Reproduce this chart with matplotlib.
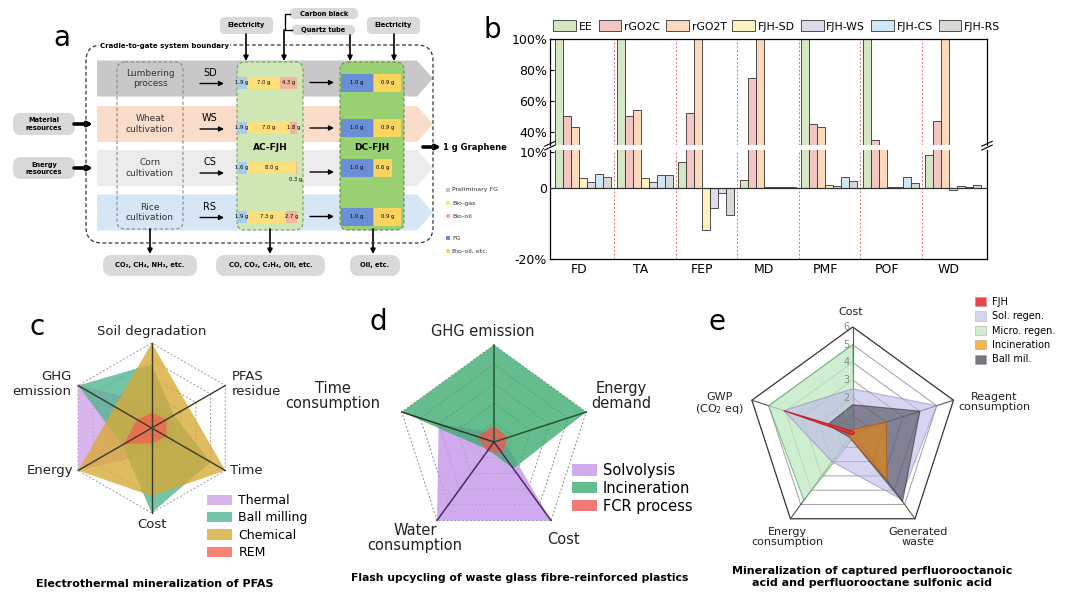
import numpy as np
import matplotlib
matplotlib.use('Agg')
import matplotlib.pyplot as plt
from matplotlib.patches import FancyBboxPatch, Polygon, Rectangle, Patch

# ---- panel a: mass balance of the two-step flash (grams per 1 g graphene)
feedstocks = ['SD', 'WS', 'CS', 'RS']
processes = ['Lumbering\nprocess', 'Wheat\ncultivation', 'Corn\ncultivation', 'Rice\ncultivation']
ac_prelim_fg = [1.9, 1.9, 1.6, 1.9]
ac_bio_gas = [7.0, 7.0, 8.0, 7.3]
ac_bio_oil = [4.3, 1.8, 0.3, 2.7]
dc_fg = [1.0, 1.0, 1.0, 1.0]
dc_bio_oil = [0.9, 0.9, 0.6, 0.9]

# ---- panel b: normalised impact (%)
categories = ['FD', 'TA', 'FEP', 'MD', 'PMF', 'POF', 'WD']
series_names = ['EE', 'rGO2C', 'rGO2T', 'FJH-SD', 'FJH-WS', 'FJH-CS', 'FJH-RS']
ee = [100, 100, 7.1, 2.3, 100, 100, 9.1]
rgo2c = [50, 50.5, 52.5, 75, 45, 35, 47]
rgo2t = [43, 54, 100, 100, 43, 30, 100]
fjh_sd = [2.8, 2.8, -11.9, 0.1, 0.7, 0.1, -0.6]
fjh_ws = [1.7, 1.7, -5.6, 0.1, 0.5, 0.1, 0.4]
fjh_cs = [3.9, 3.5, -1.6, 0.1, 3.0, 2.9, 0.2]
fjh_rs = [3.1, 3.7, -7.7, 0.1, 1.9, 1.2, 0.7]
series_colors = ['#d4e7c2', '#f4c6c3', '#fbd9bd', '#fcf2bf', '#dddbeb', '#cfe7f5', '#d9d9d5']

# ---- panel c: PFAS mineralization (relative, 0-1)
c_axes = ['Soil degradation', 'GHG\nemission', 'Energy', 'Cost', 'Time', 'PFAS\nresidue']
c_thermal = [0.3, 1.0, 1.0, 0.3, 0.3, 0.3]
c_ball_milling = [0.75, 1.0, 0.4, 1.0, 0.8, 0.3]
c_chemical = [1.0, 0.5, 1.0, 0.8, 1.0, 0.5]
c_rem = [0.18, 0.2, 0.38, 0.18, 0.2, 0.2]

# ---- panel d: glass fibre-reinforced plastics (relative, 0-1)
d_axes = ['GHG emission', 'Energy\ndemand', 'Cost', 'Water\nconsumption', 'Time\nconsumption']
d_solvolysis = [0.1, 0.1, 1.0, 1.0, 0.6]
d_incineration = [1.0, 1.0, 0.34, 0.1, 1.0]
d_fcr = [0.17, 0.15, 0.15, 0.12, 0.18]

# ---- panel e: captured PFOA / PFOS (score 0-6)
e_axes = ['Cost', 'Reagent\nconsumption', 'Generated\nwaste', 'Energy\nconsumption', 'GWP\n(CO$_2$ eq)']
e_fjh = [0.1, 0.1, 0.1, 0.1, 4.1]
e_sol_regen = [2.5, 5.0, 4.6, 2.0, 4.1]
e_micro_regen = [5.0, 0.1, 0.2, 4.7, 5.0]
e_incineration = [0.2, 2.0, 3.3, 0.3, 0.3]
e_ball_mil = [1.6, 4.0, 4.8, 0.3, 1.5]

W, H = 1080, 608


def box(x0, y0, x1, y1):
    # pixel box -> figure fraction
    return [x0 / W, 1 - y1 / H, (x1 - x0) / W, (y1 - y0) / H]


def rbox(ax, x0, y0, x1, y1, fc, ec='none', ls='-', lw=0.8, r=6, z=1, alpha=1):
    ax.add_patch(FancyBboxPatch((x0, y0), x1 - x0, y1 - y0,
                                boxstyle=f'round,pad=0,rounding_size={r}',
                                fc=fc, ec=ec, ls=ls, lw=lw, zorder=z, alpha=alpha))


def arrow(ax, x0, y0, x1, y1, lw=1.2, ms=7, z=5):
    ax.annotate('', xy=(x1, y1), xytext=(x0, y0), zorder=z,
                arrowprops=dict(arrowstyle='-|>', color='k', lw=lw,
                                mutation_scale=ms, shrinkA=0, shrinkB=0))


def panel_a(ax):
    ax.text(62, 38, 'a', fontsize=20, ha='center', va='center')
    # system boundary
    rbox(ax, 86, 45, 433, 243, 'none', ec='#333333', ls=(0, (3, 2)), lw=0.9, r=16, z=6)
    ax.text(100, 46, 'Cradle-to-gate system boundary', fontsize=5, fontweight='bold',
            va='center', zorder=7, bbox=dict(fc='white', ec='none', pad=0.5))

    row_y = [78.5, 124, 168, 212.5]
    band_colors = ['#c8c8c8', '#f9dcca', '#ececec', '#d6e6f5']
    for y, col in zip(row_y, band_colors):
        ax.add_patch(Polygon([(97, y - 18), (417, y - 18), (433, y), (417, y + 18), (97, y + 18)],
                             closed=True, fc=col, ec='none', zorder=1))

    rbox(ax, 117, 62, 183, 229, 'none', ec='#888888', ls=(0, (3, 2)), lw=0.8, r=8, z=3)
    rbox(ax, 237, 62, 303, 230, '#cfe7b4', ec='#7a9a66', ls=(0, (3, 2)), lw=0.8, r=8, z=2)
    rbox(ax, 340, 62, 404, 230, '#98d072', ec='#6a8a58', ls=(0, (3, 2)), lw=0.8, r=8, z=2)
    ax.text(270, 147, 'AC-FJH', fontsize=6.5, fontweight='bold', ha='center', va='center', zorder=4)
    ax.text(372, 147, 'DC-FJH', fontsize=6.5, fontweight='bold', ha='center', va='center', zorder=4)

    for i, y in enumerate(row_y):
        ax.text(150, y, processes[i], fontsize=6.5, ha='center', va='center', color='#333', zorder=4)
        ax.text(210, y - 6, feedstocks[i], fontsize=7, ha='center', va='center', zorder=4)
        arrow(ax, 200, y + 5, 224, y + 5, lw=1.0, ms=7)
        arrow(ax, 310, y + 4, 334, y + 4, lw=1.0, ms=7)
        # AC-FJH products
        by = y + 4 if i != 2 else y
        w_pre = 10
        w_oil = 4 * ac_bio_oil[i]
        w_gas = 60 - w_pre - w_oil
        segs = [(237, w_pre, '#a8cdeb'),
                (237 + w_pre, w_gas, '#fde07c'),
                (237 + w_pre + w_gas, w_oil, '#f1b59b')]
        for x0, w, col in segs:
            ax.add_patch(Rectangle((x0, by - 6), w, 12, fc=col, ec='none', zorder=3))
        ax.text(237 + w_pre / 2, by, f'{ac_prelim_fg[i]:.1f} g', fontsize=3.8, ha='center', va='center', zorder=4)
        ax.text(237 + w_pre + w_gas / 2, by, f'{ac_bio_gas[i]:.1f} g', fontsize=3.8, ha='center', va='center', zorder=4)
        if w_oil > 4:
            ax.text(237 + w_pre + w_gas + w_oil / 2, by, f'{ac_bio_oil[i]:.1f} g', fontsize=3.8,
                    ha='center', va='center', zorder=4)
        else:
            ax.text(296, by + 11, f'{ac_bio_oil[i]:.1f} g', fontsize=3.8, ha='center', va='center', zorder=4)
        # DC-FJH products
        ax.add_patch(Rectangle((341, by - 9), 32, 18, fc='#6b8fd6', ec='none', zorder=3))
        ax.add_patch(Rectangle((374, by - 9), 30 * dc_bio_oil[i], 18, fc='#fcd45e', ec='none', zorder=3))
        ax.text(357, by, f'{dc_fg[i]:.1f} g', fontsize=3.8, ha='center', va='center', zorder=4)
        ax.text(374 + 15 * dc_bio_oil[i], by, f'{dc_bio_oil[i]:.1f} g', fontsize=3.8,
                ha='center', va='center', zorder=4)

    # inputs at the top
    for (x0, y0, x1, y1, t) in [(220, 17, 273, 34, 'Electricity'), (290, 8, 358, 19, 'Carbon black'),
                                (292, 25, 355, 35, 'Quartz tube'), (367, 17, 420, 34, 'Electricity')]:
        rbox(ax, x0, y0, x1, y1, '#d9d9d9', r=5, z=2)
        ax.text((x0 + x1) / 2, (y0 + y1) / 2, t, fontsize=4.8, fontweight='bold',
                ha='center', va='center', zorder=3)
    ax.plot([290, 285, 285, 292], [14, 14, 30, 30], color='k', lw=1.0, zorder=3)
    arrow(ax, 246, 34, 246, 61)
    arrow(ax, 284, 30, 284, 61)
    arrow(ax, 350, 35, 350, 61)
    arrow(ax, 394, 34, 394, 61)

    # resources on the left
    for y, t in [(124, 'Material\nresources'), (168, 'Energy\nresources')]:
        rbox(ax, 13, y - 11, 75, y + 11, '#d9d9d9', r=8, z=2)
        ax.text(44, y, t, fontsize=4.8, fontweight='bold', ha='center', va='center', zorder=3)
        arrow(ax, 74, y, 93, y, lw=2.6, ms=6)
    arrow(ax, 423, 147, 441, 147, lw=2.6, ms=6)
    ax.text(443, 147, '1 g Graphene', fontsize=6, fontweight='bold', va='center')

    # outputs at the bottom
    for xc, x0, x1, t in [(150, 103, 197, 'CO₂, CH₄, NH₃, etc.'), (270, 216, 325, 'CO, CO₂, C₂H₄, Oil, etc.'),
                          (373, 350, 400, 'Oil, etc.')]:
        arrow(ax, xc, 229, xc, 254)
        rbox(ax, x0, 255, x1, 276, '#d9d9d9', r=9, z=2)
        ax.text((x0 + x1) / 2, 265.5, t, fontsize=4.8, fontweight='bold', ha='center', va='center', zorder=3)

    # product legend
    for y, col, t in [(190, '#a8cdeb', 'Preliminary FG'), (203, '#fde07c', 'Bio-gas'),
                      (216, '#f1b59b', 'Bio-oil'), (238, '#6b8fd6', 'FG'), (251, '#fcd45e', 'Bio-oil, etc.')]:
        ax.add_patch(Rectangle((446, y - 2), 4, 4, fc=col, ec='none'))
        ax.text(452, y, t, fontsize=4.5, va='center', color='#333')


def panel_b(fig):
    series = [ee, rgo2c, rgo2t, fjh_sd, fjh_ws, fjh_cs, fjh_rs]
    x = np.arange(len(categories))
    width = 0.13
    ax_top = fig.add_axes(box(550, 39, 987, 145))
    ax_bot = fig.add_axes(box(550, 150, 987, 259))
    for ax in (ax_top, ax_bot):
        for j, (vals, col, name) in enumerate(zip(series, series_colors, series_names)):
            ax.bar(x + (j - 3) * width + 0.07, vals, width, color=col, edgecolor='#333333',
                   linewidth=0.6, label=name, zorder=2)
        for k in range(len(categories) - 1):
            ax.axvline(k + 0.57, color='#e07070', ls=(0, (2, 2)), lw=0.7, zorder=1)
        ax.set_xlim(-0.47, 6.63)
        ax.tick_params(direction='in', length=3, labelsize=9, pad=2)
        for s in ax.spines.values():
            s.set_linewidth(0.9)
    ax_top.set_ylim(31.5, 100)
    ax_top.set_yticks([40, 60, 80, 100])
    ax_top.set_yticklabels(['40%', '60%', '80%', '100%'])
    ax_top.set_xticks([])
    ax_top.spines['bottom'].set_visible(False)
    ax_bot.set_ylim(-20, 10.6)
    ax_bot.set_yticks([-20, 0, 10])
    ax_bot.set_yticklabels(['-20%', '0', '10%'])
    ax_bot.spines['top'].set_visible(False)
    ax_bot.axhline(0, color='#333333', lw=0.9, zorder=3)
    ax_bot.set_xticks(x)
    ax_bot.set_xticklabels(categories)
    ax_bot.tick_params(axis='x', length=0, pad=3)
    # axis break marks
    d = 0.012
    for xs in (0, 1):
        for dy in (0.0, 0.035):
            ax_bot.plot([xs - d, xs + d], [1.0 + dy, 1.045 + dy], transform=ax_bot.transAxes,
                        color='k', lw=0.8, clip_on=False)
    ax_top.legend(loc='lower left', bbox_to_anchor=(0.008, 1.07), ncol=7, frameon=False,
                  fontsize=7.8, handlelength=2.1, handleheight=1.2, handletextpad=0.25,
                  columnspacing=0.55, borderaxespad=0, borderpad=0)
    fig.text(492 / W, 1 - 30 / H, 'b', fontsize=20, ha='center', va='center')


def radar_xy(vals, angles, scale=1.0):
    a = np.deg2rad(angles)
    v = np.asarray(vals, dtype=float) / scale
    return np.column_stack([v * np.cos(a), v * np.sin(a)])


def radar_axes(fig, x0, y0, x1, y1, cx, cy, R):
    ax = fig.add_axes(box(x0, y0, x1, y1))
    ax.set_xlim((x0 - cx) / R, (x1 - cx) / R)
    ax.set_ylim((cy - y1) / R, (cy - y0) / R)
    ax.axis('off')
    return ax


def panel_c(fig):
    cx, cy, R = 151.7, 428, 85
    ax = radar_axes(fig, 0, 300, 340, 608, cx, cy, R)
    ang = [90, 150, 210, 270, 330, 30]
    for lev in [0.2, 0.4, 0.6, 0.8, 1.0]:
        ax.add_patch(Polygon(radar_xy([lev] * 6, ang), closed=True, fill=False,
                             ec='#9a9a9a', ls=(0, (2, 2)), lw=0.7, zorder=1))
    fills = [(c_thermal, '#cf9fe8'), (c_ball_milling, '#4fb48e'), (c_chemical, '#d8a935'), (c_rem, '#f2614f')]
    for vals, col in fills:
        ax.add_patch(Polygon(radar_xy(vals, ang), closed=True, fc=col, ec='none', alpha=0.78, zorder=2))
    for a in [90, 150, 210]:
        p = radar_xy([1, 1], [a, a + 180])
        ax.plot(p[:, 0], p[:, 1], color='#3a3a2a', lw=1.0, zorder=3)
    offs = [(0, 0.13, 'center'), (-0.08, 0.02, 'right'), (-0.06, 0, 'right'),
            (0, -0.13, 'center'), (0.06, 0, 'left'), (0.08, 0.02, 'left')]
    pts = radar_xy([1] * 6, ang)
    for (px, py), lab, (dx, dy, ha) in zip(pts, c_axes, offs):
        ax.text(px + dx, py + dy, lab, fontsize=9.5, ha=ha, va='center', color='#222')
    handles = [Patch(fc=c, ec='none', alpha=0.78) for _, c in fills]
    ax.legend(handles, ['Thermal', 'Ball milling', 'Chemical', 'REM'], loc='upper left',
              bbox_to_anchor=(207 / W, 1 - 494 / H), bbox_transform=fig.transFigure,
              frameon=False, fontsize=9, handlelength=2.0, handleheight=0.9,
              labelspacing=0.35, handletextpad=0.5, borderpad=0, borderaxespad=0)
    fig.text(37 / W, 1 - 327 / H, 'c', fontsize=20, ha='center', va='center')
    fig.text(155 / W, 1 - 584 / H, 'Electrothermal mineralization of PFAS', fontsize=8,
             fontweight='bold', ha='center', va='center')


def panel_d(fig):
    cx, cy, R = 494, 442, 97
    ax = radar_axes(fig, 340, 300, 700, 608, cx, cy, R)
    ang = [90, 18, -54, 234, 162]
    for lev in [0.2, 0.4, 0.6, 0.8, 1.0]:
        ax.add_patch(Polygon(radar_xy([lev] * 5, ang), closed=True, fill=False,
                             ec='#8a8a8a', ls=(0, (2, 2)), lw=0.7, zorder=1))
    fills = [(d_solvolysis, '#c496e9'), (d_incineration, '#3eac6f'), (d_fcr, '#ea5a52')]
    for vals, col in fills:
        ax.add_patch(Polygon(radar_xy(vals, ang), closed=True, fc=col, ec='none', alpha=0.8, zorder=2))
    spoke_cols = ['#1f5a33', '#1f5a33', '#4a2a5e', '#4a2a5e', '#2a3a2a']
    for a, col in zip(ang, spoke_cols):
        p = radar_xy([0, 1], [a, a])
        ax.plot(p[:, 0], p[:, 1], color=col, lw=1.1, zorder=3)
    label_pos = [(483, 332, 'center'), (621, 396, 'center'), (563, 539, 'center'),
                 (415, 538, 'center'), (333, 396, 'center')]
    for (lx, ly, ha), lab in zip(label_pos, d_axes):
        ax.text((lx - cx) / R, (cy - ly) / R, lab, fontsize=10.5, ha=ha, va='center',
                color='#222', linespacing=1.05)
    handles = [Patch(fc=c, ec='none', alpha=0.8) for _, c in fills]
    ax.legend(handles, ['Solvolysis', 'Incineration', 'FCR process'], loc='upper left',
              bbox_to_anchor=(572 / W, 1 - 463 / H), bbox_transform=fig.transFigure,
              frameon=False, fontsize=10.5, handlelength=1.7, handleheight=0.8,
              labelspacing=0.2, handletextpad=0.4, borderpad=0, borderaxespad=0)
    fig.text(378 / W, 1 - 322 / H, 'd', fontsize=20, ha='center', va='center')
    fig.text(520 / W, 1 - 578 / H, 'Flash upcycling of waste glass fibre-reinforced plastics',
             fontsize=7.8, fontweight='bold', ha='center', va='center')


def panel_e(fig):
    cx, cy, R = 852.7, 433, 106
    ax = radar_axes(fig, 700, 300, 1080, 608, cx, cy, R)
    ang = [90, 18, -54, 234, 162]
    for lev in range(1, 7):
        ax.add_patch(Polygon(radar_xy([lev] * 5, ang, 6), closed=True, fill=False,
                             ec='#333333' if lev == 6 else '#a0a0a0', lw=0.9 if lev == 6 else 0.7, zorder=1))
    for a in ang:
        p = radar_xy([0, 6], [a, a], 6)
        ax.plot(p[:, 0], p[:, 1], color='#555555', lw=0.8, zorder=1)
    fills = [(e_micro_regen, '#bfe8c2', '#5fb070', 0.75),
             (e_sol_regen, '#bcb9e6', '#8a88c0', 0.6),
             (e_ball_mil, '#3c3c48', '#222222', 0.55),
             (e_incineration, '#d9841f', '#a85a10', 0.75),
             (e_fjh, '#e8303a', '#c01820', 0.9)]
    for vals, fc, ec, al in fills:
        ax.add_patch(Polygon(radar_xy(vals, ang, 6), closed=True, fc=fc, ec=ec, lw=0.8,
                             alpha=al, zorder=2))
    for lev in range(1, 7):
        ax.text(-0.03, lev / 6, str(lev), fontsize=7, color='#888888', ha='right', va='center', zorder=4)
    label_pos = [(851, 312), (994, 402), (918, 537), (787, 537), (720, 404)]
    for (lx, ly), lab in zip(label_pos, e_axes):
        ax.text((lx - cx) / R, (cy - ly) / R, lab, fontsize=8, ha='center', va='center',
                color='#222', linespacing=0.95)
    names = ['FJH', 'Sol. regen.', 'Micro. regen.', 'Incineration', 'Ball mil.']
    cols = [('#e8303a', 0.9), ('#bcb9e6', 0.6), ('#bfe8c2', 0.75), ('#f0a830', 0.85), ('#3c3c48', 0.7)]
    handles = [Patch(fc=c, ec='#999999', lw=0.4, alpha=a) for c, a in cols]
    ax.legend(handles, names, loc='upper left', bbox_to_anchor=(975 / W, 1 - 297 / H),
              bbox_transform=fig.transFigure, frameon=False, fontsize=7, handlelength=1.1,
              handleheight=1.1, labelspacing=0.45, handletextpad=0.6, borderpad=0, borderaxespad=0)
    fig.text(717 / W, 1 - 322 / H, 'e', fontsize=20, ha='center', va='center')
    fig.text(872 / W, 1 - 577 / H,
             'Mineralization of captured perfluorooctanoic\nacid and perfluorooctane sulfonic acid',
             fontsize=8, fontweight='bold', ha='center', va='center', linespacing=1.2)


def main():
    fig = plt.figure(figsize=(W / 100, H / 100), dpi=100)
    ax0 = fig.add_axes([0, 0, 1, 1], zorder=0)
    ax0.set_xlim(0, W)
    ax0.set_ylim(H, 0)
    ax0.axis('off')
    panel_a(ax0)
    panel_b(fig)
    panel_c(fig)
    panel_d(fig)
    panel_e(fig)
    fig.savefig('out.png', dpi=100, facecolor='white')


if __name__ == '__main__':
    main()
